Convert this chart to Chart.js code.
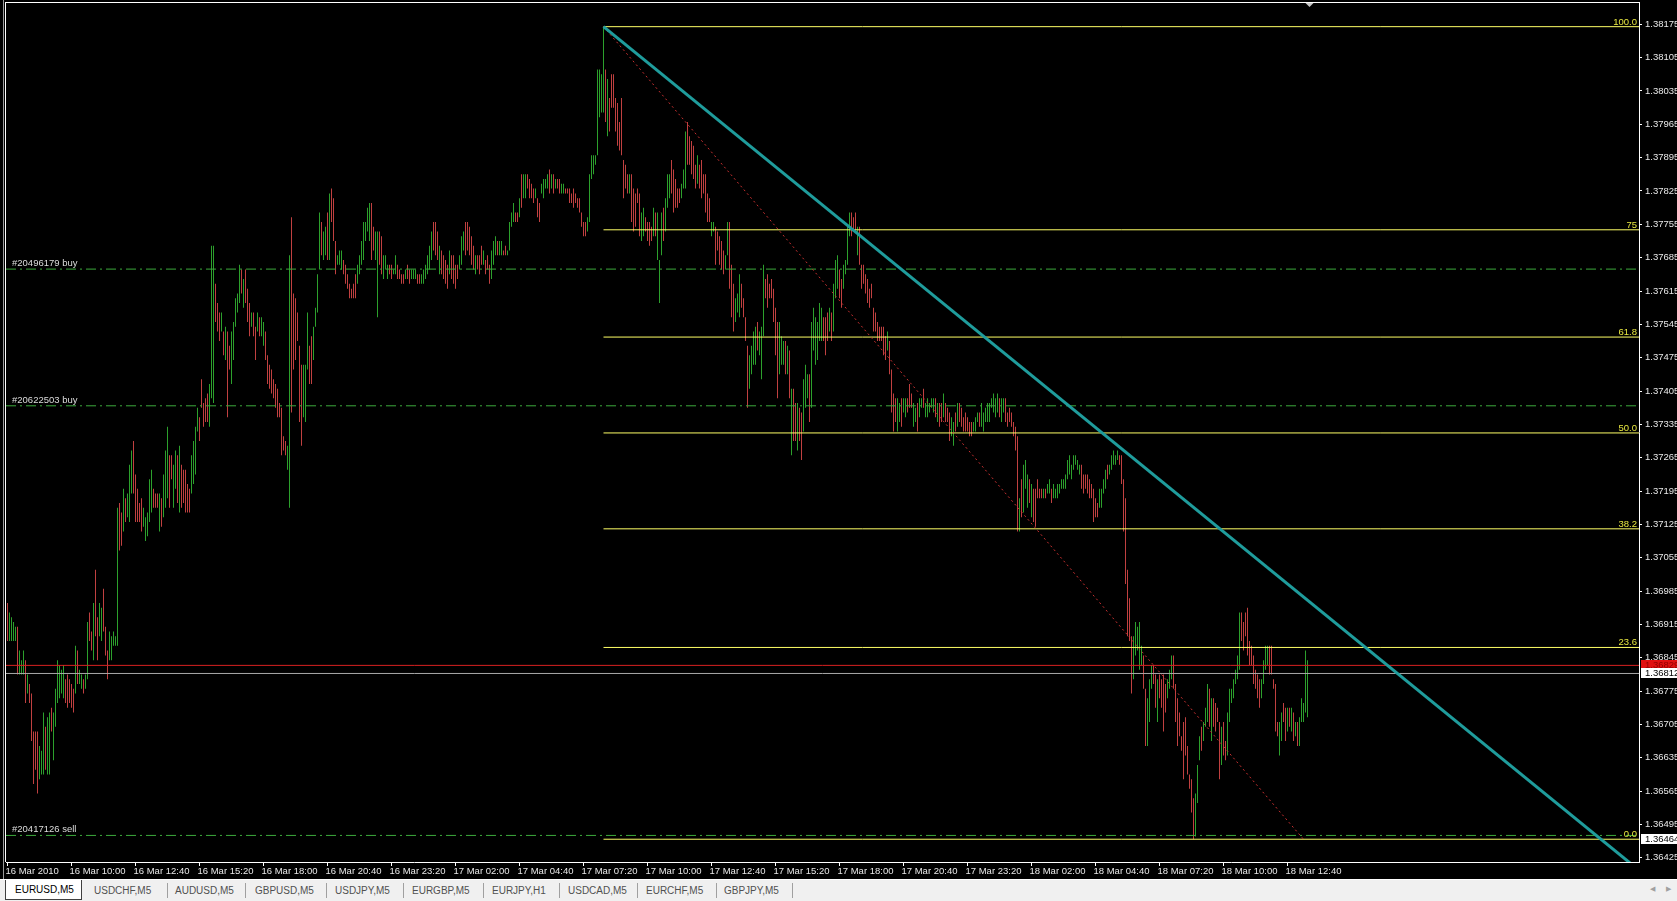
<!DOCTYPE html>
<html>
<head>
<title>EURUSD,M5</title>
<script src="https://cdn.jsdelivr.net/npm/chart.js"></script>
<style>
  html, body { margin: 0; padding: 0; background: #000; overflow: hidden; }
  .grafico { position: absolute; left: 0; top: 0; width: 1677px; height: 879px; background: #000; }
  .abas { position: absolute; left: 0; top: 879px; width: 1677px; height: 22px; background: #f0f0f0;
          border-top: 1px solid #fff; box-sizing: border-box; font: 10px "Liberation Sans", Arial, sans-serif; color: #505050; }
  .aba { position: absolute; top: 5px; white-space: nowrap; }
  .sep { position: absolute; top: 3px; width: 1px; height: 15px; background: #a0a0a0; }
  .atual { position: absolute; left: 5px; top: 0; width: 75px; height: 19px; background: #fff;
           border: 1px solid #404040; border-top: none; color: #000; }
  .atual span { position: absolute; left: 9px; top: 4px; }
  .setas { position: absolute; top: 5px; font-size: 7px; color: #a0a0a0; }
</style>
</head>
<body>
<div class="grafico"><canvas id="grafico" width="1677" height="879"></canvas></div>
<div class="abas">
  <div class="atual"><span>EURUSD,M5</span></div>
  <span class="aba" style="left:94px">USDCHF,M5</span><div class="sep" style="left:167px"></div>
  <span class="aba" style="left:175px">AUDUSD,M5</span><div class="sep" style="left:245px"></div>
  <span class="aba" style="left:255px">GBPUSD,M5</span><div class="sep" style="left:326px"></div>
  <span class="aba" style="left:335px">USDJPY,M5</span><div class="sep" style="left:403px"></div>
  <span class="aba" style="left:412px">EURGBP,M5</span><div class="sep" style="left:483px"></div>
  <span class="aba" style="left:492px">EURJPY,H1</span><div class="sep" style="left:559px"></div>
  <span class="aba" style="left:568px">USDCAD,M5</span><div class="sep" style="left:637px"></div>
  <span class="aba" style="left:646px">EURCHF,M5</span><div class="sep" style="left:716px"></div>
  <span class="aba" style="left:724px">GBPJPY,M5</span><div class="sep" style="left:792px"></div>
  <span class="setas" style="left:1650px">&#9664;</span>
  <span class="setas" style="left:1666px">&#9654;</span>
</div>

<script>
// prices are kept in pips above 1.3600
var base = 1.36;

// EURUSD M5, bar 0 = 16 Mar 07:20
var highPips = [
  96,94,93,92,91,91,86,84,86,84,
  81,79,77,69,69,69,66,65,73,70,
  72,73,74,73,78,84,83,82,83,80,
  81,80,79,78,87,86,82,81,80,81,
  92,94,90,96,103,93,96,95,99,91,
  86,90,89,90,89,116,117,115,120,118,
  119,125,128,130,123,120,117,118,116,114,
  115,122,124,120,119,119,119,118,123,128,
  133,127,127,125,128,127,129,125,124,124,
  121,120,127,130,133,137,135,143,138,139,
  140,142,171,171,163,159,157,157,153,154,
  153,150,153,155,160,161,167,166,164,166,
  162,159,157,157,154,157,156,156,155,153,
  148,146,145,143,142,141,138,137,131,130,
  129,169,177,161,160,157,150,146,146,146,
  157,150,152,154,158,165,178,176,174,175,
  178,182,183,181,172,169,170,170,168,167,
  165,163,162,163,165,167,169,172,176,176,
  179,180,180,175,174,174,174,173,169,169,
  167,167,167,166,169,167,166,165,165,166,
  167,166,166,166,166,165,165,165,166,167,
  169,171,174,176,176,174,171,170,169,168,
  167,170,169,169,167,167,169,173,174,176,
  176,175,173,171,169,169,169,171,170,168,
  169,167,170,172,173,172,172,172,170,171,
  170,176,178,180,178,178,181,186,186,186,
  186,185,184,183,183,181,180,184,185,185,
  186,187,186,186,185,185,185,184,184,183,
  183,183,182,183,182,181,181,178,176,176,
  177,186,190,190,190,208,208,207,217,208,
  206,202,207,207,202,201,197,202,189,188,
  186,186,186,183,182,183,182,178,179,177,
  176,176,175,179,178,178,168,178,179,181,
  186,186,189,187,185,183,183,184,187,195,
  197,194,193,192,188,190,188,189,186,186,
  182,181,176,176,175,174,173,172,170,169,
  176,176,167,163,160,161,165,163,160,156,
  150,148,150,153,154,155,153,154,167,164,
  165,163,164,162,158,155,155,152,151,151,
  150,149,141,141,138,138,137,136,143,146,
  144,144,155,158,156,155,159,158,156,156,
  157,158,157,163,168,169,166,164,167,168,
  175,178,178,177,178,175,175,167,167,165,
  164,162,163,158,157,155,154,154,154,152,
  153,151,145,140,139,139,138,139,139,139,
  139,142,140,138,137,138,139,139,141,138,
  139,138,139,139,139,138,138,138,140,138,
  137,136,135,134,136,138,138,137,135,136,
  135,134,134,134,135,136,136,138,136,137,
  138,138,139,140,139,140,139,139,139,139,
  136,137,136,134,133,131,118,122,125,126,
  123,122,121,120,120,122,120,120,120,120,
  121,122,120,121,120,121,121,122,122,123,
  126,127,125,127,127,126,125,125,123,123,
  123,122,121,120,118,117,120,120,122,124,
  125,125,127,128,127,128,127,127,122,118,
  103,97,89,89,92,91,92,87,85,78,
  76,80,83,83,81,80,81,80,81,79,
  80,82,85,85,79,76,73,68,71,72,
  66,60,59,55,56,62,68,70,71,74,
  79,78,76,76,75,74,71,70,71,67,
  73,78,78,80,82,85,94,94,92,94,
  95,88,87,85,82,81,80,80,84,87,
  87,87,87,80,79,71,71,73,75,74,
  74,74,74,73,71,71,72,76,75,86,
  84
];
var lowPips = [
  88,88,88,88,88,81,81,81,81,75,
  77,75,67,58,61,56,59,60,60,61,
  60,60,69,63,70,75,76,77,76,75,
  74,75,74,73,77,79,79,78,77,78,
  80,88,86,84,89,84,89,88,90,85,
  80,84,84,87,87,87,107,108,111,113,
  114,113,119,119,113,113,113,111,112,109,
  110,113,115,116,116,116,111,112,114,116,
  118,116,122,116,120,117,115,116,117,115,
  115,115,119,121,123,132,130,137,133,134,
  134,133,139,138,155,153,151,153,148,147,
  135,145,142,147,154,157,159,161,158,159,
  155,152,154,152,147,153,152,152,150,147,
  142,141,140,139,137,135,135,127,128,127,
  124,116,136,145,147,151,134,129,135,134,
  145,142,142,147,154,157,166,169,168,169,
  168,168,176,172,165,167,167,166,165,163,
  162,160,160,160,160,163,165,167,168,172,
  174,172,168,170,168,156,167,165,164,166,
  164,165,164,165,165,164,164,163,163,164,
  164,163,164,164,164,163,163,163,163,164,
  165,166,168,170,169,168,165,165,164,163,
  162,165,164,163,162,164,166,167,170,169,
  170,169,167,166,165,166,165,167,167,165,
  166,163,164,167,169,169,169,169,169,169,
  169,170,175,176,176,176,177,179,181,181,
  183,181,181,180,181,177,176,182,181,183,
  183,182,183,182,183,183,182,182,182,182,
  182,180,180,179,180,179,178,175,173,173,
  174,176,185,186,188,190,198,199,199,197,
  194,195,200,200,195,192,191,190,181,183,
  182,182,176,174,175,180,173,172,173,174,
  172,171,172,173,173,168,159,169,172,174,
  179,181,182,178,179,179,180,181,183,183,
  188,188,186,185,183,184,183,181,182,178,
  176,176,173,174,167,170,167,166,165,166,
  169,162,156,153,155,157,156,158,156,151,
  137,141,144,146,146,149,148,143,152,160,
  158,160,160,155,148,139,144,146,146,144,
  144,139,127,130,130,128,130,126,132,137,
  139,134,137,149,146,147,151,151,151,148,
  151,153,151,153,160,162,160,158,162,165,
  167,173,173,174,174,169,167,162,163,161,
  159,158,160,153,153,151,151,151,148,147,
  149,144,136,132,134,132,134,133,136,135,
  136,137,137,133,134,132,135,137,137,135,
  135,136,137,136,135,134,133,134,135,134,
  134,130,131,129,132,133,134,133,132,132,
  132,131,131,132,132,134,133,133,132,134,
  134,134,137,136,135,136,135,134,136,134,
  133,134,133,131,128,111,111,114,115,120,
  116,117,114,113,112,118,118,118,118,118,
  119,119,117,118,118,118,119,120,120,120,
  122,123,122,124,125,124,123,120,119,120,
  119,118,118,113,114,114,116,116,119,120,
  122,123,124,125,125,126,125,121,111,100,
  89,88,77,80,85,86,82,83,78,66,
  66,71,78,79,74,71,76,74,69,73,
  76,78,80,78,71,66,68,65,59,64,
  60,57,52,46.4,47,54,63,65,67,70,
  71,70,67,70,69,71,59,62,64,63,
  64,71,75,76,79,80,82,88,86,89,
  85,83,83,79,78,76,74,76,79,82,
  83,81,81,78,69,68,64,67,71,67,
  69,70,69,67,68,66,66,71,71,73,
  72
];
// u = bull bar, d = bear bar
var barDirs = (
  "duuuuduuud uddddduuud uuduuuuuud dddduduudu uddudduudd " +
  "duuuuuddud uuuddddduu uuuddduduu udduududdd dduuuudddd " +
  "duuudddudu dduuuuudud ddudduduud dddddddddd uudddddduu " +
  "udduuuuduu duddduuudd ddddduuuuu uudduudduu udduuddddu " +
  "dduuudduuu uuuddduddd dudddduuud ddddudddud dduuuduudd " +
  "uuuudduduu ddddudduuu udududduud dddddddddd uuuuuuuuud " +
  "uddddddddd duddddduud ddduduuudu uuddddduuu dddddudddd " +
  "dduudddddu uddduuuddd duuuuduuud dddddduuud ududdudduu " +
  "uduuuuuudd duduuudduu uudddudddd dddddddddd udddduuduu " +
  "ddduuduudu uuuududdud dduududddd ddduuuduuu uuuuuuduud " +
  "dddddduduu ududddddud uuduuuuuuu uuuuuuuddd dddddduuuu " +
  "duuuuudddd ddduuuuudd uuuddudddd uuuddddddd dddduuuduu " +
  "ududdddudd uuuuuuuddd ddddddduuu uddddduudd udududuuuu u"
).replace(/\s/g, "");

var timeLabels = [
  "16 Mar 2010", "16 Mar 10:00", "16 Mar 12:40", "16 Mar 15:20", "16 Mar 18:00",
  "16 Mar 20:40", "16 Mar 23:20", "17 Mar 02:00", "17 Mar 04:40", "17 Mar 07:20",
  "17 Mar 10:00", "17 Mar 12:40", "17 Mar 15:20", "17 Mar 18:00", "17 Mar 20:40",
  "17 Mar 23:20", "18 Mar 02:00", "18 Mar 04:40", "18 Mar 07:20", "18 Mar 10:00",
  "18 Mar 12:40"
];
var barsPerLabel = 32;

// price scale labels: 1.36425 + k * 0.0007
var priceTicks = [];
for (var k = 0; k < 26; k++) priceTicks.push(42.5 + 7 * k);

// fibonacci retracement
var fibStartBar = 298;
var fibHigh = 217, fibLow = 46.4;
var fibLevels = [0, 23.6, 38.2, 50, 61.8, 75, 100];
var fibTexts = ["0.0", "23.6", "38.2", "50.0", "61.8", "75", "100.0"];
var fibRayBars = [298, 648], fibRayPips = [217, 46.4];

// trend line
var trendBars = [298, 816], trendPips = [217, 39.8];

// open orders
var orderNames = ["#20496179 buy", "#20622503 buy", "#20417126 sell"];
var orderPips = [166.1, 137.4, 47.2];

var askPips = 82.9, bidPips = 81.2;
var lastBar = 651;

var corAlta = "#2ca02c", corBaixa = "#c04040";
var amarelo = "#ffff66";

Chart.defaults.font.family = '"Liberation Sans", Arial, sans-serif';

function nivelFib(l) { return fibLow + (fibHigh - fibLow) * l / 100; }
function preco(p) { return (base + p / 10000).toFixed(5); }
function semPadding(s) { s.paddingTop = 0; s.paddingBottom = 0; s.paddingLeft = 0; s.paddingRight = 0; }

var xMin = -0.75, xMax = 815.75;

function linha(xs, ys, cor, largura, traco, ordem) {
  return {
    type: "line",
    data: xs.map(function (x, k) { return { x: x, y: ys[k] }; }),
    borderColor: cor, borderWidth: largura, borderDash: traco || [],
    pointRadius: 0, fill: false, tension: 0, order: ordem
  };
}

var conjuntos = [{
  type: "bar",
  data: highPips.map(function (h, i) { return { x: i, y: [lowPips[i], h] }; }),
  backgroundColor: barDirs.split("").map(function (d) { return d == "u" ? corAlta : corBaixa; }),
  barThickness: 1, borderWidth: 0, inflateAmount: 0, order: 9
}];

orderPips.forEach(function (p) {
  conjuntos.push(linha([xMin, xMax], [p, p], "#3caa3c", 1, [10, 4, 2, 4], 4));
});
fibLevels.forEach(function (l) {
  conjuntos.push(linha([fibStartBar, xMax], [nivelFib(l), nivelFib(l)], amarelo, 1, null, 3));
});
conjuntos.push(linha([xMin, xMax], [askPips, askPips], "#d82020", 1, null, 2));
conjuntos.push(linha([xMin, xMax], [bidPips, bidPips], "#a8a8a8", 1, null, 2));
conjuntos.push(linha(fibRayBars, fibRayPips, "#c83030", 1, [2, 3], 1));
conjuntos.push(linha(trendBars, trendPips, "#1f9c9c", 3, null, 0));

var desenhos = {
  id: "desenhos",
  afterDatasetsDraw: function (chart) {
    var ctx = chart.ctx, a = chart.chartArea, y = chart.scales.y;
    ctx.save();
    ctx.font = '9.5px "Liberation Sans", Arial, sans-serif';
    ctx.textBaseline = "alphabetic";
    ctx.textAlign = "left";
    ctx.fillStyle = "#dcdcdc";
    orderNames.forEach(function (n, k) {
      ctx.fillText(n, a.left + 6, y.getPixelForValue(orderPips[k]) - 3);
    });
    ctx.textAlign = "right";
    ctx.fillStyle = "#e8e840";
    fibLevels.forEach(function (l, k) {
      ctx.fillText(fibTexts[k], a.right - 2, y.getPixelForValue(nivelFib(l)) - 2);
    });
    ctx.restore();
  },
  afterDraw: function (chart) {
    var ctx = chart.ctx, a = chart.chartArea, x = chart.scales.x, y = chart.scales.y;
    ctx.save();
    // moldura
    ctx.fillStyle = "#9a9a9a";
    ctx.fillRect(3, 0, 1, chart.height);
    ctx.fillStyle = "#ffffff";
    ctx.fillRect(a.left - 1, a.top, 1, a.bottom - a.top);
    ctx.fillRect(a.left - 1, a.top, a.right - a.left + 1, 1);
    // caixas de preco no eixo
    ctx.font = '9.5px "Liberation Sans", Arial, sans-serif';
    ctx.textAlign = "left";
    ctx.textBaseline = "middle";
    var caixas = [
      [fibLow, "#ffffff", "#000000"],
      [askPips, "#e01010", "#900000"],
      [bidPips, "#ffffff", "#000000"]
    ];
    caixas.forEach(function (c) {
      var yy = y.getPixelForValue(c[0]);
      ctx.fillStyle = c[1];
      ctx.fillRect(a.right + 2, Math.round(yy) - 5, 40, 10);
      ctx.fillStyle = c[2];
      ctx.fillText(preco(c[0]), a.right + 6, Math.round(yy) + 0.5);
    });
    // marcador de deslocamento
    var xs = x.getPixelForValue(lastBar);
    ctx.fillStyle = "#c8c8c8";
    ctx.beginPath();
    ctx.moveTo(xs - 4, a.top + 1);
    ctx.lineTo(xs + 4, a.top + 1);
    ctx.lineTo(xs, a.top + 5);
    ctx.closePath();
    ctx.fill();
    ctx.restore();
  }
};

var grafico = new Chart(document.getElementById("grafico").getContext("2d"), {
  type: "bar",
  data: { datasets: conjuntos },
  options: {
    responsive: false,
    animation: false,
    layout: { padding: { left: 6, top: 2, right: 0, bottom: 0 } },
    plugins: { legend: { display: false }, tooltip: { enabled: false } },
    scales: {
      x: {
        type: "linear", min: xMin, max: xMax, offset: false,
        afterFit: function (s) { s.height = 17; semPadding(s); },
        afterBuildTicks: function (s) {
          s.ticks = timeLabels.map(function (t, k) { return { value: k * barsPerLabel }; });
        },
        ticks: {
          autoSkip: false, maxRotation: 0, align: "start", padding: 0, labelOffset: -2,
          color: "#e8e8e8", font: { size: 9.5 },
          callback: function (v) { return timeLabels[Math.round(v / barsPerLabel)]; }
        },
        grid: { offset: false, drawOnChartArea: false, drawTicks: true, tickLength: 4, color: "#ffffff" },
        border: { color: "#ffffff" }
      },
      y: {
        position: "right", min: 41.62, max: 222.18,
        afterFit: function (s) { s.width = 38; semPadding(s); },
        afterBuildTicks: function (s) {
          s.ticks = priceTicks.map(function (v) { return { value: v }; });
        },
        ticks: {
          padding: 3, color: "#e8e8e8", font: { size: 9.5 },
          callback: function (v) { return preco(v); }
        },
        grid: { drawOnChartArea: false, tickLength: 3, color: "#ffffff" },
        border: { color: "#ffffff" }
      }
    }
  },
  plugins: [desenhos]
});
</script>
</body>
</html>
